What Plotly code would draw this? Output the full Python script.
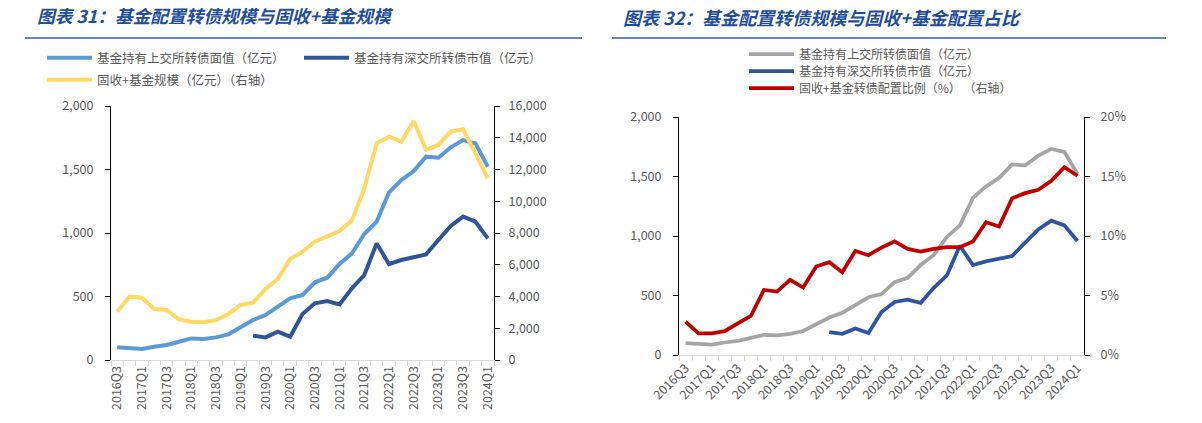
import plotly.graph_objects as go

W, H = 1202, 423

quarters = ["2016Q3", "2016Q4", "2017Q1", "2017Q2", "2017Q3", "2017Q4", "2018Q1", "2018Q2",
            "2018Q3", "2018Q4", "2019Q1", "2019Q2", "2019Q3", "2019Q4", "2020Q1", "2020Q2",
            "2020Q3", "2020Q4", "2021Q1", "2021Q2", "2021Q3", "2021Q4", "2022Q1", "2022Q2",
            "2022Q3", "2022Q4", "2023Q1", "2023Q2", "2023Q3", "2023Q4", "2024Q1"]

# 基金持有上交所转债面值（亿元）
sh_face = [100, 92, 87, 105, 118, 144, 170, 165, 178, 202, 262, 315, 354, 420, 485, 512,
           612, 648, 756, 840, 992, 1089, 1320, 1417, 1488, 1601, 1593, 1675, 1732, 1706, 1522]
# 基金持有深交所转债市值（亿元）
sz_mkt = [None, None, None, None, None, None, None, None, None, None, None,
          192, 178, 223, 184, 362, 446, 465, 438, 564, 669, 918, 756, 787, 806, 832,
          945, 1055, 1129, 1089, 958]
# 固收+基金规模（亿元）
fund_scale = [3045, 3990, 3927, 3213, 3150, 2562, 2415, 2373, 2520, 2898, 3465, 3612, 4473,
              5103, 6363, 6825, 7455, 7770, 8127, 8778, 10815, 13650, 14070, 13755, 15057,
              13230, 13545, 14385, 14532, 13020, 11445]
# 固收+基金转债配置比例（%）
ratio = [2.8, 1.82, 1.82, 2.0, 2.66, 3.28, 5.47, 5.33, 6.31, 5.67, 7.43, 7.8, 6.96, 8.75,
         8.39, 9.03, 9.54, 8.92, 8.7, 8.92, 9.06, 9.06, 9.54, 11.16, 10.8, 13.18, 13.6,
         13.88, 14.64, 15.79, 15.06]

tick_text = [q if i % 2 == 0 else "" for i, q in enumerate(quarters)]

FONT = "Noto Sans CJK SC"
GRAY_TXT = "#595959"
TITLE_C = "#1F4E9A"

def px_x(p):
    return p / W

def px_y(p):
    return 1 - p / H

fig = go.Figure()

LW = 4
fig.add_trace(go.Scatter(x=quarters, y=sh_face, mode="lines", name="基金持有上交所转债面值（亿元）",
                         line=dict(color="#5B9BD5", width=LW), xaxis="x", yaxis="y", legend="legend"))
fig.add_trace(go.Scatter(x=quarters, y=sz_mkt, mode="lines", name="基金持有深交所转债市值（亿元）",
                         line=dict(color="#2F5597", width=LW), xaxis="x", yaxis="y", legend="legend2"))
fig.add_trace(go.Scatter(x=quarters, y=fund_scale, mode="lines", name="固收+基金规模（亿元）（右轴）",
                         line=dict(color="#FFD966", width=LW), xaxis="x", yaxis="y2", legend="legend3"))

LW2 = 3.75
fig.add_trace(go.Scatter(x=quarters, y=sh_face, mode="lines", name="基金持有上交所转债面值（亿元）",
                         line=dict(color="#A5A5A5", width=LW2), xaxis="x2", yaxis="y3", legend="legend4"))
fig.add_trace(go.Scatter(x=quarters, y=sz_mkt, mode="lines", name="基金持有深交所转债市值（亿元）",
                         line=dict(color="#2F55A0", width=LW2), xaxis="x2", yaxis="y3", legend="legend5"))
fig.add_trace(go.Scatter(x=quarters, y=ratio, mode="lines", name="固收+基金转债配置比例（%） （右轴）",
                         line=dict(color="#C00000", width=LW2), xaxis="x2", yaxis="y4", legend="legend6"))

tickfont = dict(family=FONT, size=12.5, color=GRAY_TXT)

def xaxis_cfg(domain, anchor, angle):
    return dict(domain=domain, anchor=anchor, type="category", categoryorder="array",
                categoryarray=quarters, tickmode="array", tickvals=quarters, ticktext=tick_text,
                tickson="boundaries", ticks="outside", ticklen=5, tickcolor="#D9D9D9",
                showline=True, linecolor="#D9D9D9", linewidth=1, showgrid=False, zeroline=False,
                tickangle=angle, tickfont=tickfont, range=[-0.5, 30.5], fixedrange=True,
                automargin=False)

def yaxis_cfg(domain, anchor, rng, dtick, side="left", overlay=None, fmt=",", suffix="", standoff=9):
    d = dict(domain=domain, anchor=anchor, range=rng, dtick=dtick, tick0=0, side=side,
             ticks="outside", ticklen=5, tickcolor="#000000", showline=True, linecolor="#000000",
             linewidth=1, showgrid=False, zeroline=False, tickfont=tickfont, tickformat=fmt,
             ticksuffix=suffix, ticklabelstandoff=standoff, automargin=False, fixedrange=True)
    if overlay:
        d["overlaying"] = overlay
    return d

L_dom_x = [px_x(111), px_x(494)]
L_dom_y = [px_y(360), px_y(106)]
R_dom_x = [px_x(679), px_x(1084)]
R_dom_y = [px_y(355), px_y(117)]

def leg(x, y, size=12.5):
    return dict(x=px_x(x), y=px_y(y), xanchor="left", yanchor="middle", orientation="h",
                font=dict(family=FONT, size=size, color=GRAY_TXT), bgcolor="rgba(0,0,0,0)",
                itemwidth=45, borderwidth=0, itemclick=False, itemdoubleclick=False)

fig.update_layout(
    template="none",
    width=W, height=H, autosize=False,
    margin=dict(l=0, r=0, t=0, b=0, pad=0, autoexpand=False),
    paper_bgcolor="white", plot_bgcolor="white",
    font=dict(family=FONT, color=GRAY_TXT),
    xaxis=xaxis_cfg(L_dom_x, "y", -90),
    yaxis=yaxis_cfg(L_dom_y, "x", [0, 2000], 500, standoff=9),
    yaxis2=yaxis_cfg(L_dom_y, "x", [0, 16000], 2000, side="right", overlay="y", standoff=6),
    xaxis2=xaxis_cfg(R_dom_x, "y3", -45),
    yaxis3=yaxis_cfg(R_dom_y, "x2", [0, 2000], 500, standoff=9),
    yaxis4=yaxis_cfg(R_dom_y, "x2", [0, 20], 5, side="right", overlay="y3", fmt="d",
                     suffix="%", standoff=8),
    legend=leg(42, 58),
    legend2=leg(299, 58),
    legend3=leg(42, 80),
    legend4=leg(744, 54, 12),
    legend5=leg(744, 71, 12),
    legend6=leg(744, 88, 12),
    showlegend=True,
)

fig.add_annotation(text="图表 31：基金配置转债规模与固收+基金规模", x=px_x(35), y=px_y(15),
                   xref="paper", yref="paper", xanchor="left", yanchor="middle",
                   showarrow=False,
                   font=dict(family=FONT, size=17.7, color=TITLE_C, weight="bold", style="italic"))
fig.add_annotation(text="图表 32：基金配置转债规模与固收+基金配置占比", x=px_x(621), y=px_y(17),
                   xref="paper", yref="paper", xanchor="left", yanchor="middle",
                   showarrow=False,
                   font=dict(family=FONT, size=18, color=TITLE_C, weight="bold", style="italic"))

for x0, x1 in [(25, 582), (612, 1166)]:
    fig.add_shape(type="line", xref="paper", yref="paper", x0=px_x(x0), x1=px_x(x1),
                  y0=px_y(38), y1=px_y(38), line=dict(color="#2E5DAA", width=1.5))

fig.write_html("out.html", config={"displayModeBar": False},
               post_script="document.body.style.margin='0px';")
